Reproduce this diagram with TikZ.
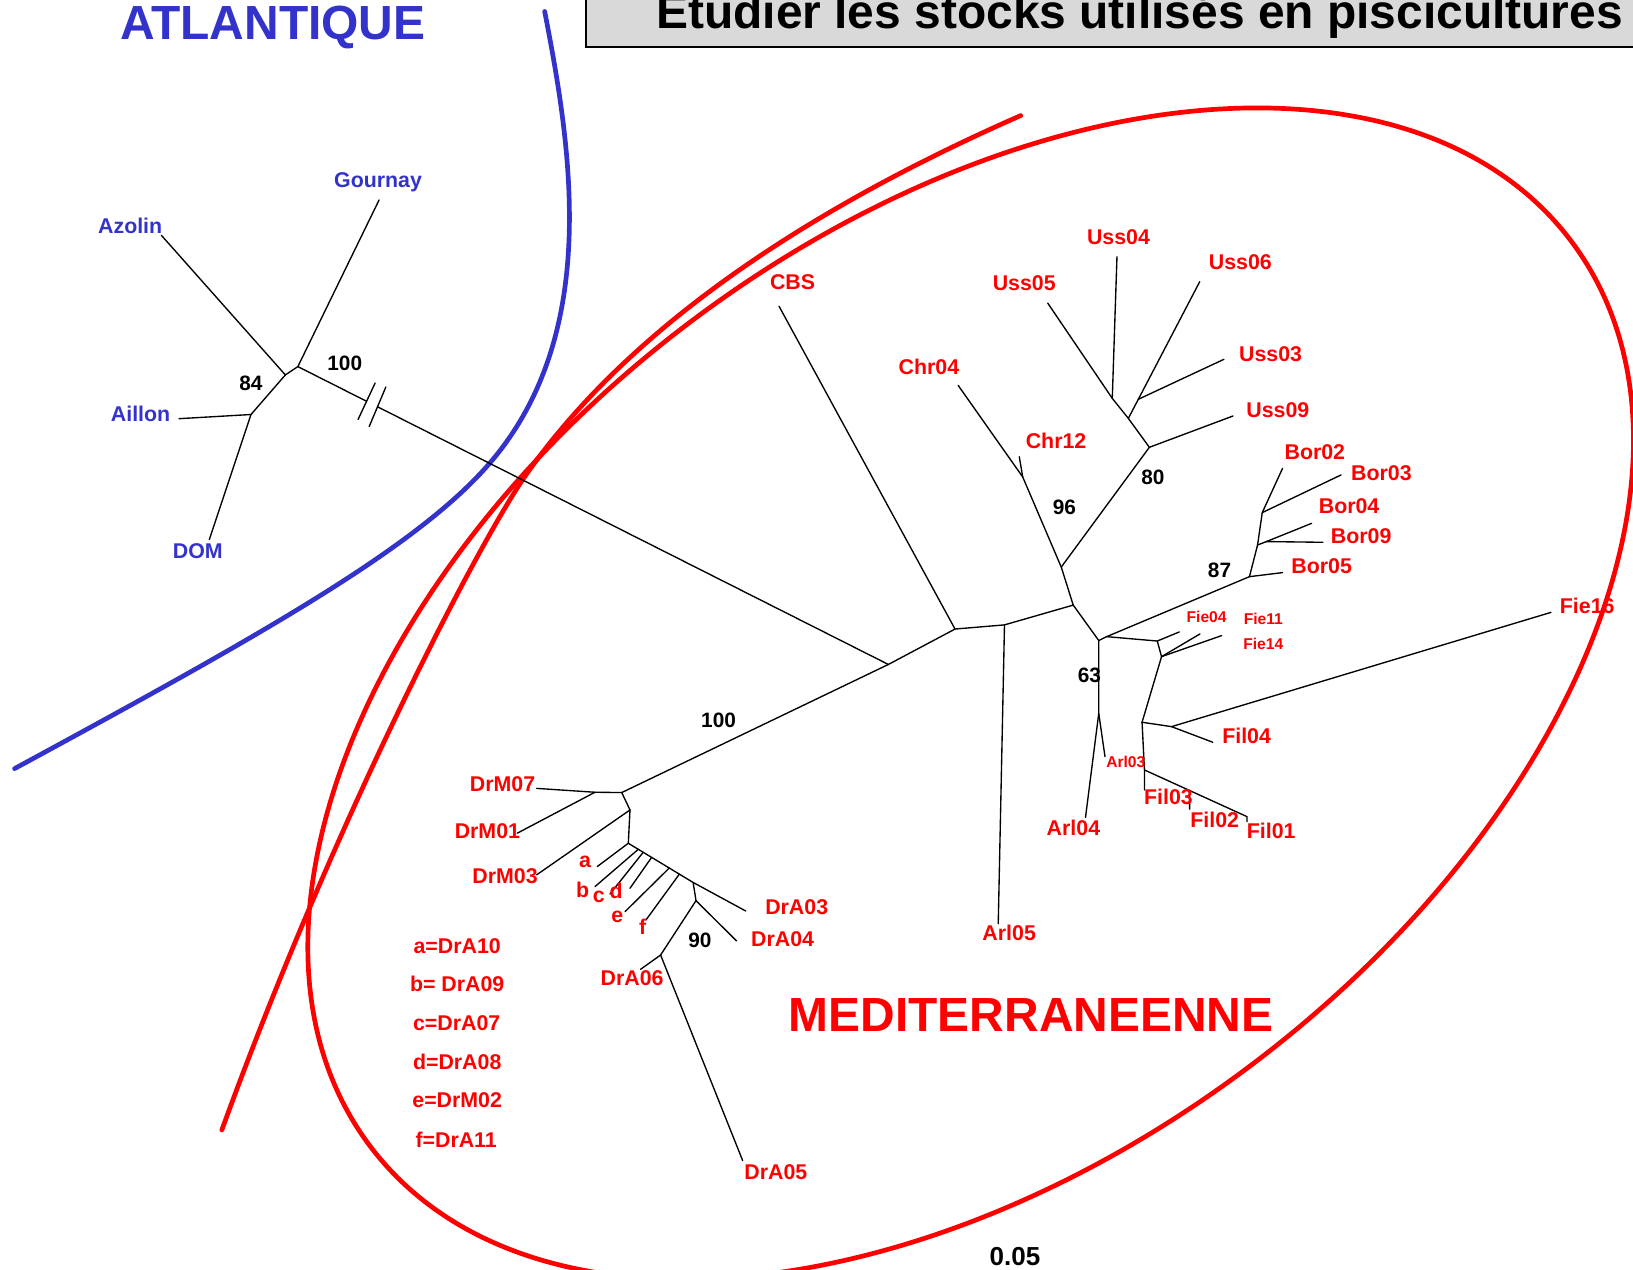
\documentclass[tikz,border=0pt]{standalone}
\usepackage{fontspec}
\setmainfont{Liberation Sans}
\usetikzlibrary{calc}
\definecolor{rd}{RGB}{255,0,0}
\definecolor{bl}{RGB}{51,51,204}
\definecolor{boxgray}{RGB}{217,217,217}
\begin{document}
\begin{tikzpicture}[x=1pt,y=-1pt,
  br/.style={line width=1.3pt, black, line cap=round},
  lab/.style={font=\fontsize{20.5}{24}\selectfont\bfseries, text=rd, inner sep=0pt},
  slab/.style={font=\fontsize{15}{18}\selectfont\bfseries, text=rd, inner sep=0pt},
  blab/.style={font=\fontsize{20.5}{24}\selectfont\bfseries, text=bl, inner sep=0pt},
  num/.style={font=\fontsize{20}{24}\selectfont\bfseries, text=black, inner sep=0pt},
  big/.style={font=\fontsize{46}{50}\selectfont\bfseries, inner sep=0pt},
  thick curve/.style={line width=4.5pt, line cap=round},
]
\useasboundingbox (0,0) rectangle (1568,1219);
\clip (0,0) rectangle (1568,1219);
\fill[white] (0,0) rectangle (1568,1219);

% title box
\draw[fill=boxgray, line width=2pt] (563,-20) rectangle (1600,45);
\node[anchor=base west, font=\fontsize{46}{50}\selectfont\bfseries, inner sep=0pt] (title) at (630,27) {Etudier les stocks utilisés en piscicultures};

% big group labels
\node[big, text=bl, anchor=base] (atl) at (262,38) {ATLANTIQUE};
\node[big, text=rd] (med) at (990,975) {MEDITERRANEENNE};
\node[font=\fontsize{25}{28}\selectfont\bfseries, inner sep=0pt] (scale) at (974.6,1206.5) {0.05};

% curves
\draw[bl, thick curve] (523,11) .. controls (548,140) and (578,320) .. (470,445)
                                .. controls (400,526) and (250,610) .. (14,738);
\draw[rd, thick curve, rotate around={37:(932,666)}] (932,666) ellipse [x radius=722pt, y radius=447pt];
\draw[rd, thick curve] (980,111) .. controls (800,190) and (613,302) .. (505,456)
                                 .. controls (460,520) and (320,790) .. (213,1085);

% ---------- Atlantic subtree ----------
\coordinate (nA) at (286,352);
\coordinate (nA2) at (274,360);
\coordinate (nB) at (241,398);
\coordinate (eGournay) at (364,192);
\coordinate (eAzolin) at (155,226);
\coordinate (eAillon) at (172,402);
\coordinate (eDOM) at (201,518);
\coordinate (nC) at (853,638);
\coordinate (brk1) at ($(nA)!0.1164!(nC)$);
\coordinate (brk2) at ($(nA)!0.1349!(nC)$);

\draw[br] (nA) -- (eGournay);
\draw[br] (nA) -- (nA2) -- (eAzolin);
\draw[br] (nA2) -- (nB) -- (eAillon);
\draw[br] (nB) -- (eDOM);
\draw[br] (nA) -- (brk1);
\draw[br] (brk2) -- (nC);
\draw[br] ($(brk1)+(8.2,-17.5)$) -- ($(brk1)+(-8.2,17.5)$);
\draw[br] ($(brk2)+(8,-19)$) -- ($(brk2)+(-8,19)$);

\node[blab] (tGournay) at (363,175) {Gournay};
\node[blab] (tAzolin) at (125,217) {Azolin};
\node[blab] (tAillon) at (135,397) {Aillon};
\node[blab] (tDOM) at (190,529) {DOM};
\node[num] (n84) at (241,368) {84};
\node[num] (n100a) at (331,349) {100};

% ---------- Mediterranean tree ----------
\coordinate (nD) at (597,761);
\coordinate (nE) at (917,604);
\coordinate (nF) at (964.5,600);
\coordinate (nG) at (1030.5,581);
\coordinate (nH) at (1019,544.5);
\coordinate (nJ) at (982,458);
\coordinate (nK) at (1103.6,429.5);
\coordinate (nL2) at (1083.4,401.7);
\coordinate (nL1) at (1068,382.5);
\coordinate (nL3) at (1093,383.4);
\coordinate (nI) at (1055,615);
\coordinate (nQ) at (1062.6,611.3);
\coordinate (nM3) at (1199.7,553.7);
\coordinate (nM2) at (1207.5,523.3);
\coordinate (nM2b) at (1216,520);
\coordinate (nM1) at (1212,492.2);
\coordinate (nP) at (1111.2,615.5);
\coordinate (nP2) at (1115.3,630.5);
\coordinate (nR) at (1096.6,693.5);
\coordinate (nR2) at (1124.9,697.7);
\coordinate (nT) at (1098.9,739.3);
\coordinate (nU) at (1197.3,784.1);
\coordinate (nS) at (1055,685);

\coordinate (eCBS) at (748,294);
\coordinate (eChr04) at (920,370);
\coordinate (eChr12) at (978.7,438.5);
\coordinate (eUss05) at (1006,291);
\coordinate (eUss04) at (1072.5,246.5);
\coordinate (eUss06) at (1152,270.4);
\coordinate (eUss03) at (1175.2,345);
\coordinate (eUss09) at (1184,399.4);
\coordinate (eBor02) at (1231.5,449.7);
\coordinate (eBor03) at (1287.7,456);
\coordinate (eBor04) at (1259.4,502.5);
\coordinate (eBor09) at (1270.3,520.7);
\coordinate (eBor05) at (1231.5,549.8);
\coordinate (eFie04) at (1132.3,606.8);
\coordinate (eFie11) at (1152.2,608.7);
\coordinate (eFie14) at (1173,610.3);
\coordinate (eFie16) at (1489.2,588);
\coordinate (eFil04) at (1164.5,712.7);
\coordinate (eFil03) at (1098.9,758.5);
\coordinate (eFil01) at (1197.3,789);
\coordinate (uF2) at ($(nT)!0.441!(nU)$);
\coordinate (eFil02) at (1142.3,777);
\coordinate (eArl03) at (1061,726.5);
\coordinate (eArl04) at (1042.3,784.8);
\coordinate (eArl05) at (958.5,887);

\draw[br] (nC) -- (nD);
\draw[br] (nC) -- (nE) -- (eCBS);
\draw[br] (nE) -- (nF) -- (eArl05);
\draw[br] (nF) -- (nG) -- (nH) -- (nJ) -- (eChr04);
\draw[br] (nJ) -- (eChr12);
\draw[br] (nH) -- (nK) -- (nL2) -- (nL1) -- (eUss05);
\draw[br] (nL1) -- (eUss04);
\draw[br] (nL2) -- (nL3) -- (eUss06);
\draw[br] (nL3) -- (eUss03);
\draw[br] (nK) -- (eUss09);
\draw[br] (nG) -- (nI) -- (nQ) -- (nM3) -- (eBor05);
\draw[br] (nM3) -- (nM2) -- (nM1) -- (eBor02);
\draw[br] (nM1) -- (eBor03);
\draw[br] (nM2) -- (nM2b) -- (eBor04);
\draw[br] (nM2b) -- (eBor09);
\draw[br] (nQ) -- (nP) -- (eFie04);
\draw[br] (nP) -- (nP2) -- (eFie11);
\draw[br] (nP2) -- (eFie14);
\draw[br] (nP2) -- (nR) -- (nR2) -- (eFie16);
\draw[br] (nR2) -- (eFil04);
\draw[br] (nR) -- (nT) -- (eFil03);
\draw[br] (nT) -- (nU) -- (eFil01);
\draw[br] (uF2) -- (eFil02);
\draw[br] (nI) -- (nS) -- (eArl03);
\draw[br] (nS) -- (eArl04);

% Drome part
\coordinate (nD1) at (571.3,760.7);
\coordinate (nD2) at (604.9,777.7);
\coordinate (nD3) at (603.3,809.7);
\coordinate (nD4) at (665.5,847.3);
\coordinate (nD5) at (668.3,864.8);
\coordinate (nD6) at (634.3,917);
\coordinate (sb) at ($(nD3)!0.154!(nD4)$);
\coordinate (sc) at ($(nD3)!0.23!(nD4)$);
\coordinate (sd) at ($(nD3)!0.36!(nD4)$);
\coordinate (se) at ($(nD3)!0.632!(nD4)$);
\coordinate (sf) at ($(nD3)!0.788!(nD4)$);
\coordinate (eDrM07) at (515.3,757);
\coordinate (eDrM01) at (496.7,800);
\coordinate (eDrM03) at (515.3,840);
\coordinate (ea) at (573.5,832);
\coordinate (eb) at (571.3,851.3);
\coordinate (ec) at (585.7,858.4);
\coordinate (ed) at (604.9,852.9);
\coordinate (ee) at (600.1,875.4);
\coordinate (ef) at (620.3,883.3);
\coordinate (eDrA03) at (716,874.7);
\coordinate (eDrA04) at (707.3,903.5);
\coordinate (eDrA06) at (615.1,930.7);
\coordinate (eDrA05) at (713.1,1114.4);

\draw[br] (nD) -- (nD1) -- (eDrM07);
\draw[br] (nD1) -- (eDrM01);
\draw[br] (nD) -- (nD2) -- (eDrM03);
\draw[br] (nD2) -- (nD3) -- (ea);
\draw[br] (nD3) -- (nD4) -- (eDrA03);
\draw[br] (sb) -- (eb);
\draw[br] (sc) -- (ec);
\draw[br] (sd) -- (ed);
\draw[br] (se) -- (ee);
\draw[br] (sf) -- (ef);
\draw[br] (nD4) -- (nD5) -- (eDrA04);
\draw[br] (nD5) -- (nD6) -- (eDrA06);
\draw[br] (nD6) -- (eDrA05);

% numbers
\node[num] (n96) at (1022,487) {96};
\node[num] (n80) at (1107,458) {80};
\node[num] (n87) at (1171,548) {87};
\node[num] (n63) at (1046,648) {63};
\node[num] (n100b) at (690,692) {100};
\node[num] (n90) at (672,903) {90};

% red labels
\node[lab] (tCBS) at (761,271) {CBS};
\node[lab] (tUss05) at (983.5,272) {Uss05};
\node[lab] (tUss04) at (1074,228) {Uss04};
\node[lab] (tUss06) at (1191,252) {Uss06};
\node[lab] (tUss03) at (1220,340) {Uss03};
\node[lab] (tUss09) at (1227,394) {Uss09};
\node[lab] (tChr04) at (892,352) {Chr04};
\node[lab] (tChr12) at (1014,423) {Chr12};
\node[lab] (tBor02) at (1262.5,434) {Bor02};
\node[lab] (tBor03) at (1326.4,454) {Bor03};
\node[lab] (tBor04) at (1295.4,486) {Bor04};
\node[lab] (tBor09) at (1307,515) {Bor09};
\node[lab] (tBor05) at (1269,544) {Bor05};
\node[lab] (tFie16) at (1524,582) {Fie16};
\node[slab] (tFie04) at (1158.6,592) {Fie04};
\node[slab] (tFie11) at (1213,594.7) {Fie11};
\node[slab] (tFie14) at (1213,618.4) {Fie14};
\node[lab] (tFil04) at (1197,707) {Fil04};
\node[slab] (tArl03) at (1081,731.3) {Arl03};
\node[lab] (tFil03) at (1122,765) {Fil03};
\node[lab] (tFil02) at (1166.4,787) {Fil02};
\node[lab] (tFil01) at (1220.6,797.6) {Fil01};
\node[lab] (tArl04) at (1030.7,795) {Arl04};
\node[lab] (tArl05) at (969,896) {Arl05};
\node[lab] (tDrM07) at (482.6,753) {DrM07};
\node[lab] (tDrM01) at (468,797.6) {DrM01};
\node[lab] (tDrM03) at (485,841.7) {DrM03};
\node[lab] (tDrA03) at (765,871) {DrA03};
\node[lab] (tDrA04) at (751.5,902) {DrA04};
\node[lab] (tDrA06) at (607,939) {DrA06};
\node[lab] (tDrA05) at (745,1125.6) {DrA05};
\node[lab] (ta) at (561.7,827.3) {a};
\node[lab] (tb) at (559.5,854) {b};
\node[lab] (tc) at (575,861.6) {c};
\node[lab] (td) at (591.5,855.2) {d};
\node[lab] (te) at (592.7,880.2) {e};
\node[lab] (tf) at (617,889.8) {f};

% legend
\node[lab] (lga) at (439,908) {a=DrA10};
\node[lab] (lgb) at (439,945) {b= DrA09};
\node[lab] (lgc) at (438.5,982.6) {c=DrA07};
\node[lab] (lgd) at (439,1019.4) {d=DrA08};
\node[lab] (lge) at (439,1056.8) {e=DrM02};
\node[lab] (lgf) at (438,1093.9) {f=DrA11};
\end{tikzpicture}
\end{document}
